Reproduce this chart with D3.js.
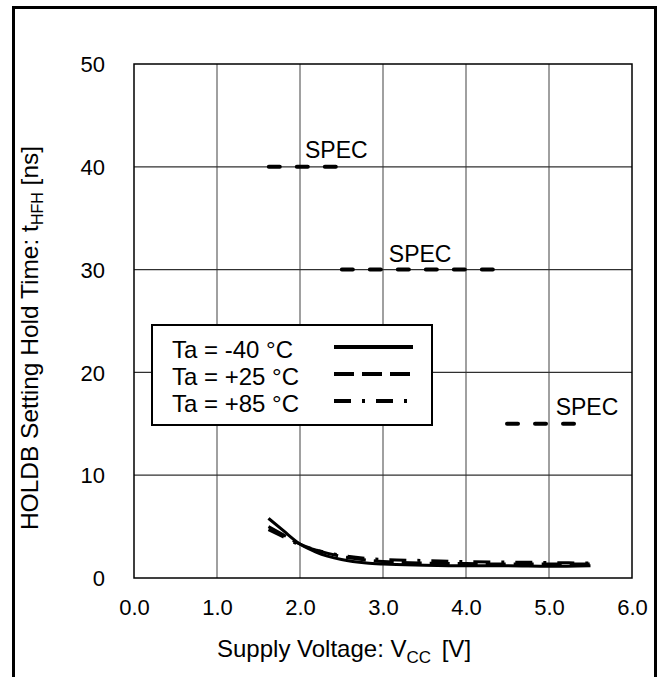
<!DOCTYPE html>
<html>
	<head>
		<title>HOLDB Setting Hold Time</title>
		<style>
			body, html {
				margin: 0;
				padding: 0;
				background: #fff;
			}
			text {
				font-family: "Liberation Sans", Arial, sans-serif;
				fill: #000;
			}
			.grid-v {
				stroke: #808080;
				stroke-width: 1.5px;
			}
			.grid-h {
				stroke: #303030;
				stroke-width: 1.2px;
			}
			.curve {
				fill: none;
				stroke: #000;
				stroke-width: 3px;
			}
		</style>
	</head>
	<body>

		<svg id="svg" width="659" height="677"></svg>

		<script src="https://d3js.org/d3.v7.min.js"></script>
		<script>
			// Data
			const voltage = [1.62, 1.8, 2.0, 2.2, 2.5, 2.8, 3.0, 3.5, 4.0, 4.5, 5.0, 5.5]
			const tMinus40 = [5.8, 4.6, 3.3, 2.5, 1.8, 1.45, 1.35, 1.25, 1.2, 1.2, 1.15, 1.2]
			const tPlus25 = [5.0, 4.2, 3.3, 2.7, 2.1, 1.75, 1.6, 1.45, 1.4, 1.35, 1.35, 1.35]
			const tPlus85 = [4.7, 4.0, 3.2, 2.7, 2.2, 1.9, 1.8, 1.7, 1.6, 1.55, 1.5, 1.45]

			const seriesNames = ['Ta = -40 °C', 'Ta = +25 °C', 'Ta = +85 °C']
			const xTicks = [0, 1, 2, 3, 4, 5, 6]
			const yTicks = [0, 10, 20, 30, 40, 50]

			// spec limits: from V, to V, value
			const specFrom = [1.6, 2.48, 4.47]
			const specTo = [2.45, 4.35, 5.34]
			const specValue = [40, 30, 15]
			const specLabelX = [2.06, 3.07, 5.08]
			const specLabelY = [40.85, 30.75, 15.85]

			const dashes = [null, '20,8', '17,11,3,11']

			const svg = d3.select('#svg')

			// outer frame
			svg.append('rect')
				.attr('x', 13.5).attr('y', 7.5)
				.attr('width', 642).attr('height', 720)
				.attr('fill', 'none')
				.attr('stroke', '#000')
				.attr('stroke-width', 3)

			const pLeft = 134, pRight = 632, pTop = 64, pBottom = 578

			const x = d3.scaleLinear().domain([0, 6]).range([pLeft, pRight])
			const y = d3.scaleLinear().domain([0, 50]).range([pBottom, pTop])

			const g = svg.append('g')

			// grid
			g.selectAll('.grid-v')
				.data(xTicks.slice(1, -1))
				.enter().append('line')
				.attr('class', 'grid-v')
				.attr('x1', d => x(d)).attr('x2', d => x(d))
				.attr('y1', pTop).attr('y2', pBottom)

			g.selectAll('.grid-h')
				.data(yTicks.slice(1, -1))
				.enter().append('line')
				.attr('class', 'grid-h')
				.attr('x1', pLeft).attr('x2', pRight)
				.attr('y1', d => y(d)).attr('y2', d => y(d))

			// plot frame
			g.append('rect')
				.attr('x', pLeft).attr('y', pTop)
				.attr('width', pRight - pLeft).attr('height', pBottom - pTop)
				.attr('fill', 'none')
				.attr('stroke', '#000')
				.attr('stroke-width', 1.5)

			// axes, only used for labels
			const xAxis = d3.axisBottom(x).tickValues(xTicks).tickFormat(d3.format('.1f')).tickSize(0).tickPadding(21)
			const yAxis = d3.axisLeft(y).tickValues(yTicks).tickSize(0).tickPadding(29)

			const gx = g.append('g').attr('transform', `translate(0,${pBottom})`).call(xAxis)
			const gy = g.append('g').attr('transform', `translate(${pLeft},0)`).call(yAxis)
			;[gx, gy].forEach(a => {
				a.select('.domain').remove()
				a.selectAll('text')
					.style('font-family', '"Liberation Sans", Arial, sans-serif')
					.style('font-size', '22px')
					.attr('fill', '#000')
			})
			gy.selectAll('text').attr('dy', '0.35em')

			// spec lines
			specValue.forEach((v, i) => {
				g.append('line')
					.attr('x1', x(specFrom[i]) + 2).attr('x2', x(specTo[i]))
					.attr('y1', y(v)).attr('y2', y(v))
					.attr('stroke', '#000')
					.attr('stroke-width', 4)
					.attr('stroke-linecap', 'round')
					.attr('stroke-dasharray', '11,17')
			})
			specLabelX.forEach((v, i) => {
				g.append('text')
					.attr('x', x(v)).attr('y', y(specLabelY[i]))
					.style('font-size', '23px')
					.text('SPEC')
			})

			// curves
			const line = d3.line()
				.x(d => x(d[0]))
				.y(d => y(d[1]))
				.curve(d3.curveMonotoneX)

			const series = [tMinus40, tPlus25, tPlus85]
			series.forEach((s, i) => {
				g.append('path')
					.datum(voltage.map((v, j) => [v, s[j]]))
					.attr('class', 'curve')
					.attr('stroke-dasharray', dashes[i])
					.attr('d', line)
			})

			// legend
			const legend = g.append('g')
			legend.append('rect')
				.attr('x', 152).attr('y', 325)
				.attr('width', 280).attr('height', 100)
				.attr('fill', '#fff')
				.attr('stroke', '#000')
				.attr('stroke-width', 2)

			seriesNames.forEach((name, i) => {
				const ly = 358 + i * 27
				legend.append('text')
					.attr('x', 172).attr('y', ly)
					.style('font-size', '24px')
					.text(name)
				legend.append('line')
					.attr('x1', 334).attr('x2', 413)
					.attr('y1', ly - 11).attr('y2', ly - 11)
					.attr('stroke', '#000')
					.attr('stroke-width', 4)
					.attr('stroke-dasharray', dashes[i])
			})

			// axis titles
			const xt = svg.append('text')
				.attr('x', 217).attr('y', 657)
				.style('font-size', '24px')
			xt.append('tspan').text('Supply Voltage: V')
			xt.append('tspan').attr('dy', 6).style('font-size', '17px').text('CC')
			xt.append('tspan').attr('dy', -6).attr('dx', 4).text(' [V]')

			const yt = svg.append('text')
				.attr('transform', `translate(38,338) rotate(-90)`)
				.attr('text-anchor', 'middle')
				.style('font-size', '24.5px')
			yt.append('tspan').text('HOLDB Setting Hold Time: t')
			yt.append('tspan').attr('dy', 5).style('font-size', '16px').text('HFH')
			yt.append('tspan').attr('dy', -5).text(' [ns]')
		</script>
	</body>
</html>
